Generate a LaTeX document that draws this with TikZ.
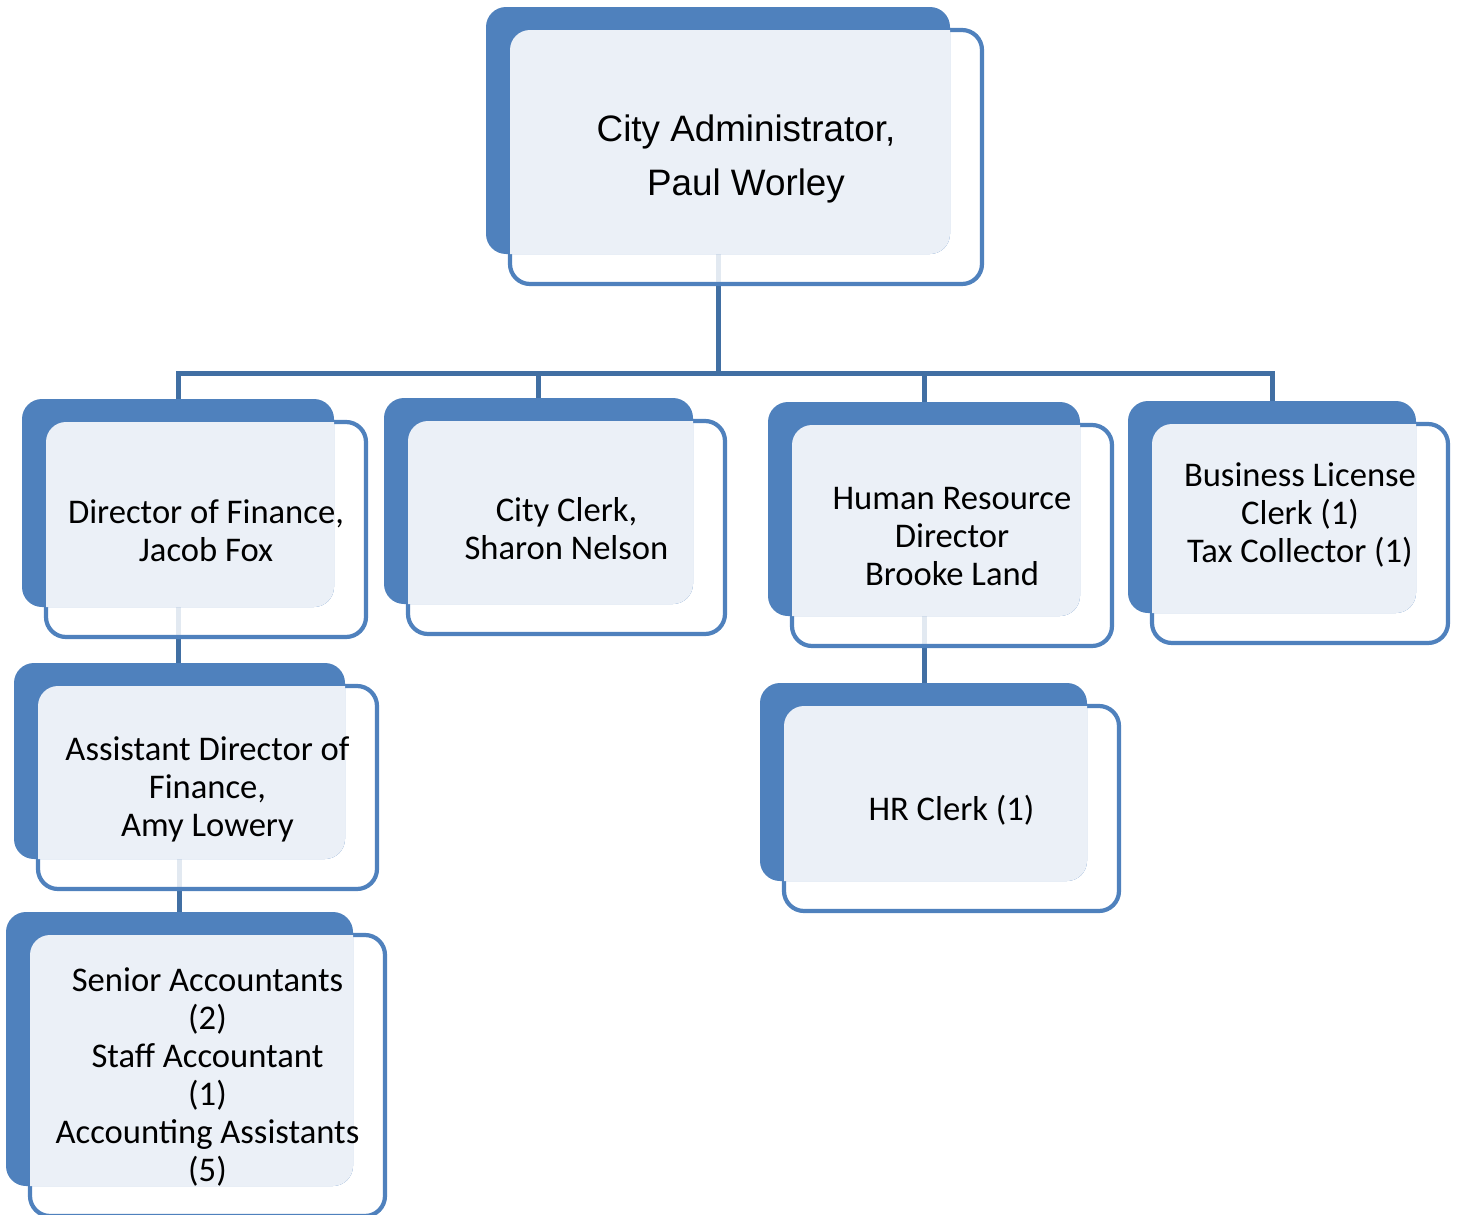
\documentclass[tikz,border=0pt]{standalone}
\usepackage{fontspec}
\setmainfont{Carlito}
\newfontfamily\arialfont{Liberation Sans}
\usetikzlibrary{calc,backgrounds}
\definecolor{boxblue}{HTML}{4F81BD}
\definecolor{boxlight}{HTML}{EBF0F7}
\definecolor{linkblue}{HTML}{416FA3}

\tikzset{
  outerframe/.style={draw=boxblue, line width=2.1pt, fill=white, fill opacity=.85, rounded corners=10pt},
  orglink/.style={draw=linkblue, line width=2.5pt},
  boxtext/.style={align=center, inner sep=0pt, font=\fontsize{17.3}{19}\selectfont},
}

% #1 node options, #2 name, #3 #4 back top left, #5 #6 back bottom right (px), #7 text
\newcommand{\orgbox}[7][]{%
  \node[inner sep=0pt, outer sep=0pt, minimum width={(#5-#3)*0.5pt}, minimum height={(#6-#4)*0.5pt}]
    (#2back) at ({(#3+#5)/2},{(#4+#6)/2}) {};
  \draw[outerframe] ($(#2back.north west)+(24,23)$) rectangle ($(#2back.south east)+(32,30)$);
  \fill[boxblue, rounded corners=10pt] (#2back.north west) rectangle (#2back.south east);
  \begin{scope}
    \clip[rounded corners=10pt] ($(#2back.north west)+(24,23)$) rectangle ($(#2back.south east)+(32,30)$);
    \fill[boxlight, rounded corners=10pt] (#2back.north west) rectangle (#2back.south east);
  \end{scope}
  \node[boxtext,#1] (#2) at ($(#2back.center)+(28,28)$) {#7};
}

\begin{document}
\begin{tikzpicture}[x=0.5pt, y=-0.5pt]
  \useasboundingbox (0,0) rectangle (1458,1215);

  \orgbox[font=\arialfont\fontsize{18.4}{27}\selectfont]{adm}{486}{7}{950}{254}{City Administrator,\\Paul Worley}
  \orgbox{fin}{22}{399}{334}{607}{Director of Finance,\\Jacob Fox}
  \orgbox{clk}{384}{398}{693}{604}{City Clerk,\\Sharon Nelson}
  \orgbox{hrd}{768}{402}{1080}{616}{Human Resource\\Director\\Brooke Land}
  \orgbox[yshift=10pt]{blc}{1128}{401}{1416}{613}{Business License\\Clerk (1)\\Tax Collector (1)}
  \orgbox{ast}{14}{663}{345}{859}{Assistant Director of\\Finance,\\Amy Lowery}
  \orgbox{sen}{6}{912}{353}{1186}{Senior Accountants\\(2)\\Staff Accountant\\(1)\\Accounting Assistants\\(5)}
  \orgbox{hrc}{760}{683}{1087}{881}{HR Clerk (1)}

  \begin{pgfonlayer}{background}
    \coordinate (bus) at (718,373);
    \draw[orglink] (admback.south) -- (bus);
    \foreach \n in {fin,clk,hrd,blc}
      \draw[orglink] (bus) -| (\n back.north);
    \draw[orglink] (finback.south) -- (finback.south |- astback.north);
    \draw[orglink] (astback.south) -- (astback.south |- senback.north);
    \draw[orglink] (hrdback.south) -- (hrdback.south |- hrcback.north);
  \end{pgfonlayer}
\end{tikzpicture}
\end{document}
